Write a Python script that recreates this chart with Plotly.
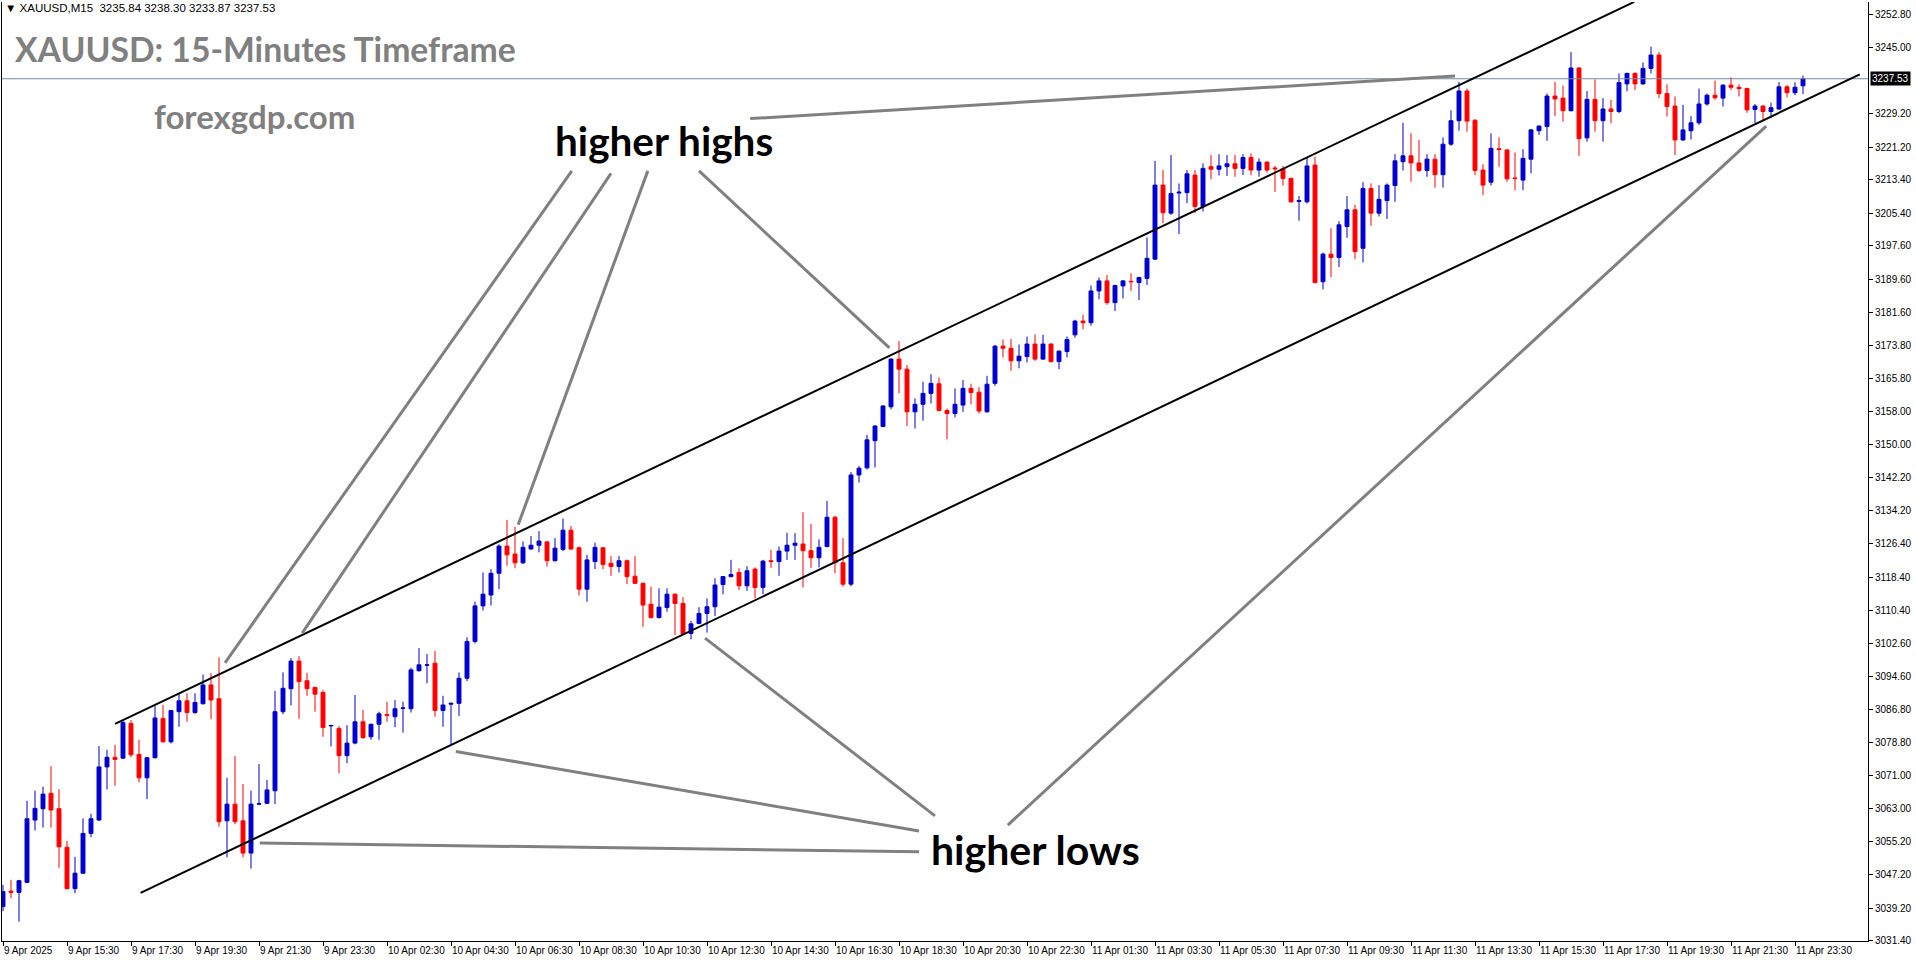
import plotly.graph_objects as go

# ---------------- data ----------------
bar_index = list(range(226))

opens = [
    3039.6, 3043.3, 3043.0, 3045.4, 3060.3, 3063.0, 3066.7, 3063.0, 3053.8, 3043.9,
    3047.6, 3057.1, 3060.3, 3073.0, 3075.3, 3075.1, 3083.4, 3076.0, 3070.4, 3075.2,
    3084.6, 3079.0, 3086.2, 3088.8, 3086.0, 3088.1, 3092.6, 3089.3, 3060.1, 3064.1,
    3060.1, 3052.4, 3064.1, 3064.3, 3067.3, 3086.2, 3091.7, 3098.3, 3093.6, 3092.0,
    3090.8, 3082.8, 3082.2, 3075.7, 3078.7, 3083.8, 3080.2, 3083.2, 3085.5, 3085.0,
    3087.0, 3086.9, 3096.0, 3097.3, 3097.8, 3086.5, 3088.0, 3088.2, 3094.2, 3103.0,
    3111.5, 3114.1, 3119.3, 3125.8, 3123.9, 3121.8, 3125.1, 3126.0, 3126.8, 3122.3,
    3125.0, 3129.6, 3125.4, 3115.5, 3122.1, 3125.4, 3121.7, 3120.9, 3122.3, 3118.6,
    3116.9, 3111.9, 3108.7, 3111.1, 3114.3, 3112.1, 3104.9, 3107.3, 3109.7, 3111.3,
    3116.6, 3118.5, 3119.5, 3116.3, 3120.3, 3115.9, 3122.3, 3122.1, 3124.6, 3126.0,
    3126.3, 3124.7, 3123.0, 3125.7, 3132.7, 3121.8, 3116.7, 3142.8, 3144.5, 3151.0,
    3154.4, 3159.1, 3170.5, 3168.1, 3157.9, 3159.7, 3162.3, 3164.6, 3158.2, 3157.5,
    3159.5, 3163.5, 3162.6, 3157.9, 3164.7, 3173.6, 3173.1, 3170.1, 3171.1, 3174.1,
    3170.5, 3174.1, 3169.9, 3172.3, 3176.3, 3179.6, 3179.2, 3186.8, 3189.2, 3184.0,
    3188.0, 3189.1, 3188.8, 3189.8, 3194.4, 3212.1, 3205.4, 3210.2, 3210.3, 3214.5,
    3207.0, 3216.5, 3215.9, 3216.5, 3217.2, 3216.1, 3218.7, 3215.7, 3217.6, 3216.2,
    3216.0, 3213.7, 3208.2, 3208.1, 3216.9, 3189.0, 3195.6, 3194.8, 3202.2, 3206.2,
    3197.0, 3211.3, 3205.4, 3208.4, 3212.0, 3217.7, 3219.1, 3217.4, 3215.6, 3218.3,
    3214.6, 3221.9, 3227.5, 3234.6, 3227.6, 3215.7, 3212.8, 3220.8, 3220.5, 3213.8,
    3213.3, 3218.3, 3225.1, 3226.1, 3233.4, 3232.9, 3229.9, 3240.1, 3223.4, 3232.6,
    3227.5, 3230.3, 3229.7, 3236.3, 3238.8, 3236.3, 3240.0, 3243.2, 3234.0, 3231.0,
    3222.9, 3225.1, 3227.0, 3231.5, 3233.6, 3232.9, 3236.0, 3235.5, 3235.2, 3230.2,
    3231.0, 3229.7, 3230.3, 3235.6, 3234.2, 3235.84,
]
highs = [
    3044.8, 3046.0, 3046.0, 3064.9, 3067.3, 3068.3, 3073.2, 3067.7, 3055.3, 3051.5,
    3060.7, 3061.8, 3078.0, 3077.1, 3078.3, 3084.2, 3084.2, 3079.5, 3075.4, 3087.7,
    3087.8, 3086.6, 3090.6, 3090.6, 3090.6, 3095.1, 3095.4, 3099.2, 3070.4, 3075.6,
    3068.9, 3067.3, 3073.7, 3069.9, 3091.2, 3095.6, 3099.0, 3099.5, 3095.5, 3092.2,
    3091.4, 3083.1, 3082.8, 3083.0, 3090.2, 3086.6, 3083.3, 3086.2, 3088.6, 3089.0,
    3088.6, 3096.7, 3101.4, 3100.0, 3100.7, 3090.0, 3088.4, 3095.6, 3104.0, 3112.5,
    3119.5, 3120.3, 3126.2, 3132.0, 3130.4, 3126.9, 3128.2, 3129.4, 3127.0, 3127.7,
    3132.4, 3130.6, 3125.7, 3123.7, 3126.6, 3125.6, 3123.4, 3123.4, 3122.6, 3123.4,
    3117.1, 3116.1, 3115.7, 3115.7, 3114.5, 3113.6, 3107.9, 3111.2, 3113.3, 3118.1,
    3118.6, 3122.5, 3120.5, 3121.0, 3120.7, 3122.5, 3124.9, 3125.7, 3129.0, 3128.9,
    3133.9, 3131.1, 3127.4, 3136.6, 3133.0, 3127.7, 3143.5, 3145.0, 3152.4, 3154.7,
    3159.5, 3170.7, 3174.8, 3169.1, 3161.1, 3165.1, 3166.9, 3166.1, 3158.7, 3163.5,
    3165.5, 3164.6, 3163.8, 3166.5, 3173.9, 3175.2, 3175.3, 3174.0, 3175.9, 3176.4,
    3176.3, 3174.3, 3172.6, 3175.9, 3179.9, 3181.1, 3188.1, 3190.0, 3190.6, 3188.3,
    3189.4, 3191.0, 3190.2, 3199.6, 3217.9, 3215.7, 3219.3, 3212.5, 3215.7, 3215.7,
    3217.3, 3219.3, 3219.5, 3219.3, 3219.3, 3219.5, 3219.7, 3218.5, 3217.8, 3216.7,
    3216.7, 3213.9, 3209.5, 3218.7, 3218.9, 3196.0, 3201.8, 3203.5, 3209.5, 3207.4,
    3212.8, 3212.5, 3212.1, 3212.5, 3219.5, 3227.0, 3224.5, 3222.9, 3219.5, 3219.5,
    3223.5, 3230.0, 3236.8, 3235.2, 3227.9, 3217.1, 3224.5, 3223.5, 3220.7, 3219.9,
    3220.7, 3225.5, 3226.4, 3234.0, 3236.8, 3235.9, 3243.9, 3240.3, 3234.6, 3237.4,
    3232.9, 3232.5, 3238.8, 3239.0, 3239.1, 3241.4, 3245.2, 3243.9, 3236.2, 3233.3,
    3231.3, 3228.6, 3235.2, 3234.0, 3237.1, 3236.2, 3237.9, 3236.2, 3235.4, 3231.5,
    3231.2, 3231.8, 3236.7, 3236.0, 3236.7, 3238.30,
]
lows = [
    3038.5, 3041.6, 3036.0, 3045.2, 3057.8, 3058.5, 3058.5, 3048.9, 3043.7, 3042.8,
    3047.4, 3056.2, 3060.1, 3067.6, 3068.5, 3074.9, 3075.3, 3069.3, 3065.3, 3075.0,
    3078.8, 3078.6, 3082.6, 3083.8, 3085.7, 3087.9, 3084.4, 3058.7, 3051.4, 3059.3,
    3051.4, 3048.7, 3063.9, 3064.1, 3064.1, 3085.6, 3087.7, 3084.5, 3090.0, 3086.2,
    3080.2, 3077.9, 3071.5, 3073.9, 3078.4, 3079.7, 3079.5, 3079.5, 3083.8, 3082.5,
    3081.2, 3086.0, 3095.8, 3093.0, 3085.0, 3082.6, 3078.5, 3085.2, 3093.5, 3102.5,
    3110.4, 3111.6, 3115.5, 3121.1, 3120.5, 3121.5, 3124.9, 3124.3, 3120.9, 3122.1,
    3124.6, 3124.9, 3114.0, 3112.5, 3120.3, 3120.3, 3118.7, 3119.5, 3116.7, 3116.7,
    3106.5, 3108.5, 3108.5, 3110.1, 3104.5, 3104.5, 3103.5, 3107.1, 3105.1, 3109.1,
    3114.3, 3118.3, 3115.3, 3115.1, 3113.3, 3114.3, 3120.6, 3118.7, 3122.5, 3122.5,
    3115.9, 3120.6, 3120.7, 3125.5, 3119.3, 3116.1, 3116.2, 3141.0, 3144.1, 3144.6,
    3154.2, 3158.5, 3162.3, 3154.5, 3153.9, 3155.8, 3159.9, 3158.0, 3151.3, 3156.6,
    3157.9, 3159.7, 3157.5, 3157.7, 3164.1, 3170.9, 3167.7, 3168.3, 3169.7, 3170.1,
    3170.3, 3169.7, 3168.1, 3170.9, 3175.6, 3177.6, 3178.5, 3184.8, 3183.5, 3182.0,
    3185.0, 3186.8, 3184.6, 3188.2, 3194.2, 3203.0, 3205.0, 3200.4, 3207.8, 3205.4,
    3205.8, 3213.5, 3214.4, 3214.3, 3214.1, 3214.5, 3214.5, 3214.1, 3215.1, 3210.5,
    3212.0, 3207.9, 3203.6, 3207.7, 3188.6, 3187.2, 3190.1, 3192.5, 3199.5, 3194.4,
    3193.6, 3202.4, 3204.6, 3204.0, 3208.1, 3215.6, 3212.9, 3215.2, 3214.1, 3211.5,
    3211.5, 3221.5, 3225.1, 3224.9, 3214.5, 3209.7, 3212.0, 3216.5, 3212.9, 3210.9,
    3210.9, 3214.9, 3224.1, 3222.7, 3228.6, 3227.3, 3229.7, 3219.1, 3222.5, 3224.9,
    3222.5, 3226.9, 3229.3, 3234.5, 3234.8, 3236.1, 3238.8, 3232.9, 3228.5, 3219.3,
    3222.7, 3223.0, 3226.5, 3231.1, 3232.5, 3230.9, 3234.8, 3233.3, 3229.4, 3226.9,
    3227.7, 3228.1, 3230.1, 3233.1, 3233.6, 3233.87,
]
closes = [
    3043.2, 3043.0, 3045.8, 3060.6, 3063.1, 3066.5, 3062.7, 3053.9, 3043.9, 3047.6,
    3057.1, 3060.6, 3073.0, 3075.3, 3074.8, 3083.6, 3075.9, 3070.4, 3075.2, 3084.7,
    3079.0, 3086.5, 3088.8, 3086.0, 3088.4, 3092.6, 3089.0, 3059.9, 3064.1, 3059.9,
    3052.4, 3064.1, 3064.2, 3067.5, 3086.2, 3091.8, 3098.3, 3093.4, 3091.7, 3090.4,
    3082.4, 3082.9, 3075.7, 3078.7, 3083.8, 3080.0, 3083.2, 3085.7, 3085.3, 3086.9,
    3087.1, 3096.2, 3097.4, 3097.4, 3086.5, 3087.8, 3088.2, 3094.2, 3103.0, 3111.5,
    3114.3, 3119.3, 3125.8, 3123.7, 3121.8, 3125.5, 3126.0, 3127.0, 3122.3, 3125.3,
    3129.6, 3125.1, 3115.5, 3122.5, 3125.5, 3121.4, 3120.9, 3122.3, 3118.5, 3116.9,
    3111.7, 3108.7, 3111.2, 3114.3, 3112.1, 3104.8, 3107.2, 3109.7, 3111.3, 3116.5,
    3118.5, 3119.0, 3116.3, 3119.9, 3115.9, 3122.2, 3122.1, 3124.6, 3126.0, 3126.5,
    3124.7, 3123.0, 3125.5, 3132.7, 3121.8, 3116.7, 3142.8, 3144.4, 3151.2, 3154.5,
    3159.3, 3170.5, 3168.1, 3157.9, 3159.7, 3162.3, 3164.7, 3158.2, 3157.5, 3159.7,
    3163.5, 3162.5, 3158.1, 3164.5, 3173.6, 3173.1, 3170.1, 3171.2, 3174.1, 3170.5,
    3174.1, 3169.9, 3172.4, 3175.2, 3179.6, 3179.2, 3186.8, 3189.2, 3184.0, 3188.1,
    3189.2, 3189.0, 3190.0, 3194.6, 3212.1, 3205.5, 3210.1, 3210.4, 3214.8, 3207.0,
    3216.1, 3215.9, 3216.7, 3217.2, 3216.1, 3218.7, 3215.7, 3217.6, 3215.7, 3216.0,
    3213.7, 3208.1, 3208.4, 3216.7, 3188.8, 3195.6, 3194.8, 3202.6, 3206.2, 3196.2,
    3211.3, 3205.4, 3208.7, 3212.1, 3217.9, 3219.1, 3217.4, 3215.6, 3218.3, 3214.6,
    3221.9, 3227.5, 3234.6, 3227.4, 3215.6, 3212.1, 3220.9, 3220.6, 3213.6, 3213.7,
    3218.5, 3225.3, 3226.2, 3233.4, 3232.7, 3229.9, 3240.1, 3223.2, 3232.6, 3227.5,
    3230.3, 3229.7, 3236.6, 3238.8, 3236.3, 3240.0, 3243.2, 3234.0, 3230.9, 3222.9,
    3225.3, 3227.0, 3231.5, 3233.6, 3233.0, 3236.0, 3235.5, 3235.2, 3230.1, 3231.0,
    3229.7, 3230.6, 3235.6, 3234.2, 3235.5, 3237.53,
]

time_tick_index = list(range(0, 225, 8))
time_tick_labels = [
    "9 Apr 2025", "9 Apr 15:30", "9 Apr 17:30", "9 Apr 19:30", "9 Apr 21:30", "9 Apr 23:30",
    "10 Apr 02:30", "10 Apr 04:30", "10 Apr 06:30", "10 Apr 08:30", "10 Apr 10:30",
    "10 Apr 12:30", "10 Apr 14:30", "10 Apr 16:30", "10 Apr 18:30", "10 Apr 20:30",
    "10 Apr 22:30", "11 Apr 01:30", "11 Apr 03:30", "11 Apr 05:30", "11 Apr 07:30",
    "11 Apr 09:30", "11 Apr 11:30", "11 Apr 13:30", "11 Apr 15:30", "11 Apr 17:30",
    "11 Apr 19:30", "11 Apr 21:30", "11 Apr 23:30",
]

price_ticks = [
    3252.80, 3245.00, 3229.20, 3221.20, 3213.40, 3205.40, 3197.60, 3189.60, 3181.60,
    3173.80, 3165.80, 3158.00, 3150.00, 3142.20, 3134.20, 3126.40, 3118.40, 3110.40,
    3102.60, 3094.60, 3086.80, 3078.80, 3071.00, 3063.00, 3055.20, 3047.20, 3039.20,
    3031.40,
]
last_price = 3237.53
header_text = "XAUUSD,M15  3235.84 3238.30 3233.87 3237.53"

# channel trend lines (bar index, price)
upper_channel = [(14.0, 3083.3), (203.9, 3255.9)]
lower_channel = [(17.2, 3042.9), (232.1, 3238.6)]

# grey pointer lines (bar index, price)
highs_pointers = [
    [(71.1, 3215.5), (27.75, 3097.9)],
    [(76.0, 3214.9), (37.4, 3105.0)],
    [(80.6, 3215.5), (64.4, 3130.9)],
    [(87.0, 3215.5), (110.8, 3173.2)],
    [(93.4, 3228.0), (181.5, 3238.2)],
]
lows_pointers = [
    [(114.5, 3057.7), (56.6, 3076.7)],
    [(114.5, 3052.7), (32.1, 3054.8)],
    [(116.5, 3061.3), (87.75, 3103.8)],
    [(125.6, 3059.1), (220.4, 3226.2)],
]

# ---------------- figure ----------------
fig = go.Figure()
fig.add_trace(go.Candlestick(
    x=bar_index, open=opens, high=highs, low=lows, close=closes,
    increasing=dict(line=dict(color="#0000CC", width=1), fillcolor="#0000CC"),
    decreasing=dict(line=dict(color="#FF0000", width=1), fillcolor="#FF0000"),
    whiskerwidth=0, hoverinfo="skip", showlegend=False,
))

shapes = []
# current price line
shapes.append(dict(type="line", xref="paper", yref="y", x0=0, x1=1,
                   y0=last_price, y1=last_price,
                   line=dict(color="#778899", width=1)))
for (a, b) in [upper_channel, lower_channel]:
    shapes.append(dict(type="line", xref="x", yref="y", x0=a[0], y0=a[1], x1=b[0], y1=b[1],
                       line=dict(color="black", width=2)))
for seg in highs_pointers + lows_pointers:
    (a, b) = seg
    shapes.append(dict(type="line", xref="x", yref="y", x0=a[0], y0=a[1], x1=b[0], y1=b[1],
                       line=dict(color="#808080", width=3)))

annotations = []
axis_font = dict(family="Liberation Sans, Arial, sans-serif", size=10, color="black")
for idx, lab in zip(time_tick_index, time_tick_labels):
    annotations.append(dict(xref="x", yref="paper", x=idx, y=0, xanchor="left", yanchor="top",
                            xshift=-1, yshift=-2, text=lab, showarrow=False, font=axis_font))

annotations.append(dict(xref="paper", yref="y", x=1, y=last_price, xanchor="left", yanchor="middle",
                        xshift=2, text=str(last_price), showarrow=False, bgcolor="black",
                        font=dict(family="Liberation Sans, Arial, sans-serif", size=10, color="white")))

annotations.append(dict(xref="paper", yref="paper", x=0.0005, y=0.9936, xanchor="left", yanchor="middle",
                        text="\u25BC " + header_text, showarrow=False, align="left",
                        font=dict(family="Liberation Sans, DejaVu Sans, sans-serif", size=11.5, color="black")))
annotations.append(dict(xref="paper", yref="paper", x=0.006, y=0.950, xanchor="left", yanchor="middle",
                        text="XAUUSD: 15-Minutes Timeframe", showarrow=False, align="left",
                        font=dict(family="Lato, sans-serif", size=33.7, color="#808080", weight=700)))
annotations.append(dict(xref="paper", yref="paper", x=0.0805, y=0.8785, xanchor="left", yanchor="middle",
                        text="forexgdp.com", showarrow=False, align="left",
                        font=dict(family="Lato, sans-serif", size=33, color="#808080", weight=700)))
annotations.append(dict(xref="paper", yref="paper", x=0.2955, y=0.8525, xanchor="left", yanchor="middle",
                        text="higher highs", showarrow=False, align="left",
                        font=dict(family="Lato, sans-serif", size=40.5, color="black", weight=700)))
annotations.append(dict(xref="x", yref="y", x=115.8, y=3053.2, xanchor="left", yanchor="middle",
                        text="higher lows", showarrow=False, align="left",
                        font=dict(family="Lato, sans-serif", size=41, color="black", weight=700)))

fig.update_layout(
    width=1916, height=964,
    margin=dict(l=2, r=48, t=2, b=23, pad=0),
    paper_bgcolor="white", plot_bgcolor="white",
    showlegend=False,
    boxgap=0.3, boxgroupgap=0.3,
    shapes=shapes, annotations=annotations,
    xaxis=dict(range=[-0.125, 233.125], showgrid=False, zeroline=False,
               showline=True, linecolor="black", linewidth=1,
               ticks="outside", ticklen=4, tickcolor="black",
               tickvals=time_tick_index, showticklabels=False,
               rangeslider=dict(visible=False), fixedrange=True),
    yaxis=dict(side="right", range=[3031.38, 3255.88], showgrid=False, zeroline=False,
               showline=True, mirror=True, linecolor="black", linewidth=1,
               ticks="outside", ticklen=4, tickcolor="black",
               tickvals=price_ticks, ticktext=[f"{v:.2f}" for v in price_ticks],
               tickfont=axis_font, fixedrange=True),
)

fig.write_html("out.html", config={"displayModeBar": False},
               post_script="document.body.style.margin='0';document.body.style.overflow='hidden';")
